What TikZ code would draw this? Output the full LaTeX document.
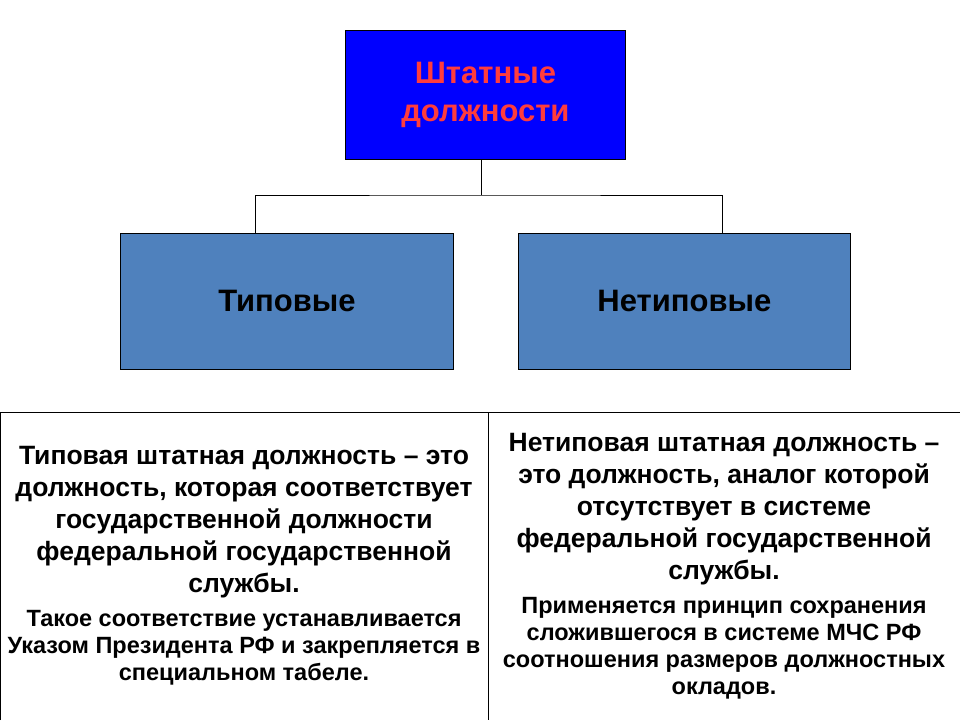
\documentclass[tikz,border=0pt]{standalone}
\usepackage{fontspec}
\setmainfont{Liberation Sans}
\begin{document}
\begin{tikzpicture}[x=1pt,y=-1pt,
  box/.style={draw=black,line width=0.8pt,anchor=north west,inner sep=0pt,font=\bfseries\fontsize{31}{38}\selectfont,align=center},
  big/.style={font=\bfseries\fontsize{26.5}{32}\selectfont,align=center},
  small/.style={font=\bfseries\fontsize{23.5}{27}\selectfont,align=center},
  ln/.style={line width=0.8pt}]
\useasboundingbox (0,0) rectangle (960,720);
\fill[white] (0,0) rectangle (960,720);
\definecolor{topb}{RGB}{0,0,255}
\definecolor{subb}{RGB}{79,129,189}
\definecolor{redt}{RGB}{255,60,60}
\node[box,fill=topb,text=redt,minimum width=280pt,minimum height=129pt] (top) at (345,30) {Штатные\\должности};
\node[box,fill=subb,minimum width=333pt,minimum height=136pt] (l) at (120,233) {Типовые};
\node[box,fill=subb,minimum width=332pt,minimum height=136pt] (r) at (518,233) {Нетиповые};
\coordinate (j) at (481,195);
\draw[ln] (top.south -| j) -- (j);
\draw[ln] (l.north -| 255,0) |- (j) -| (r.north -| 722,0);
\draw[ln] (0,720) -- (0,412) -- (960,412);
\draw[ln] (488,412) -- (488,720);
\node[big] (lt) at (244,522) {Типовая штатная должность – это\\должность, которая соответствует\\государственной должности\\федеральной государственной\\службы.};
\node[small] (ls) at (244,648) {Такое соответствие устанавливается\\Указом Президента РФ и закрепляется в\\специальном табеле.};
\node[big] (rt) at (724,509) {Нетиповая штатная должность –\\это должность, аналог которой\\отсутствует в системе\\федеральной государственной\\службы.};
\node[small] (rs) at (724,648) {Применяется принцип сохранения\\сложившегося в системе МЧС РФ\\соотношения размеров должностных\\окладов.};
\end{tikzpicture}
\end{document}
